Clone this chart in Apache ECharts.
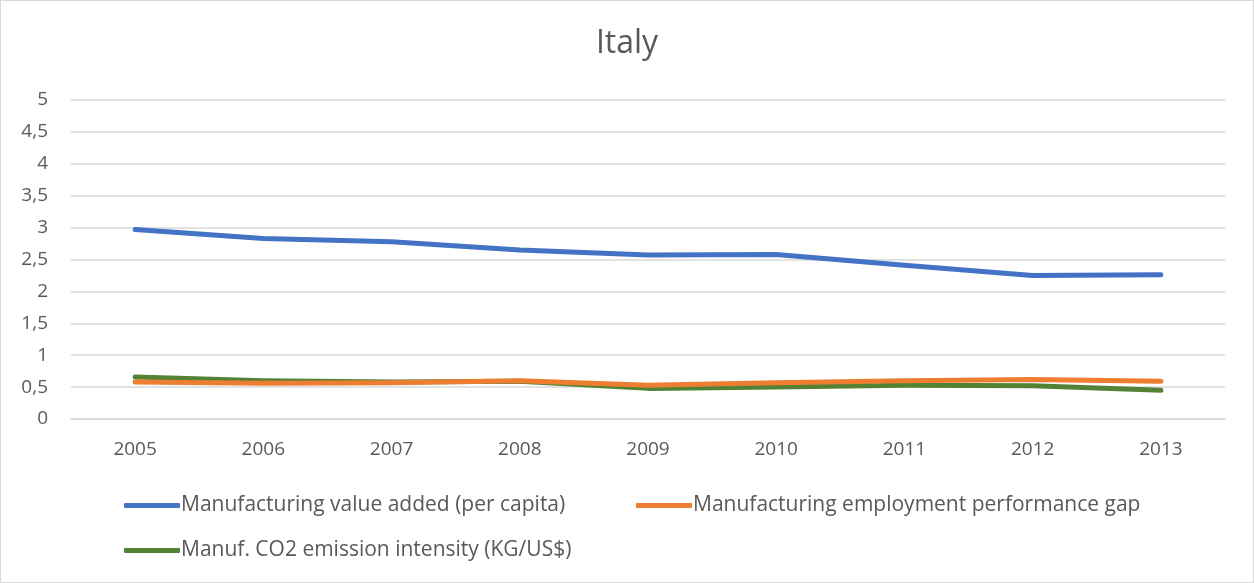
<!DOCTYPE html>
<html><head><meta charset="utf-8">
<script src="https://cdn.jsdelivr.net/npm/echarts@6/dist/echarts.min.js"></script>
<style>html,body{margin:0;padding:0;background:#fff}#c{width:1254px;height:583px;box-sizing:border-box;border:1px solid #d9d9d9}</style>
</head><body><div id="c"></div>
<script>
const categories = ['2005','2006','2007','2008','2009','2010','2011','2012','2013'];
const valueAdded = [2.97, 2.83, 2.78, 2.65, 2.57, 2.58, 2.41, 2.25, 2.26];
const employmentGap = [0.58, 0.56, 0.57, 0.60, 0.53, 0.57, 0.60, 0.62, 0.59];
const co2Intensity = [0.66, 0.60, 0.58, 0.59, 0.48, 0.50, 0.53, 0.52, 0.45];
const seriesNames = ['Manufacturing value added (per capita)', 'Manufacturing employment performance gap', 'Manuf. CO2 emission intensity (KG/US$)'];
const colors = ['#4472C4', '#ED7D31', '#548235'];
const FONT = 'Open Sans, Noto Sans, sans-serif';

const chart = echarts.init(document.getElementById('c'));
const legendBase = {
  orient: 'horizontal', icon: 'roundRect', itemWidth: 56, itemHeight: 5, itemGap: 40,
  textStyle: { fontFamily: FONT, fontSize: 21, color: '#595959', padding: [0,0,0,-4] },
  selectedMode: false
};
chart.setOption({
  animation: false,
  title: { text: 'Italy', left: 'center', top: 22, textStyle: { fontFamily: FONT, fontSize: 32, fontWeight: 'normal', color: '#595959' } },
  legend: [
    Object.assign({}, legendBase, { data: [seriesNames[0]], left: 118, top: 489 }),
    Object.assign({}, legendBase, { data: [seriesNames[1]], left: 630, top: 489 }),
    Object.assign({}, legendBase, { data: [seriesNames[2]], left: 118, top: 534 })
  ],
  grid: { left: 70, right: 28, top: 99, bottom: 163, containLabel: false },
  xAxis: {
    type: 'category', data: categories, boundaryGap: true,
    axisLine: { lineStyle: { color: '#d9d9d9', width: 1.5 } },
    axisTick: { show: false },
    axisLabel: { color: '#595959', fontSize: 19, margin: 21, fontFamily: FONT }
  },
  yAxis: {
    type: 'value', min: 0, max: 5, interval: 0.5,
    axisLine: { show: false }, axisTick: { show: false },
    splitLine: { lineStyle: { color: '#d9d9d9', width: 1.5 } },
    axisLabel: { color: '#595959', fontSize: 19, margin: 23, fontFamily: FONT,
      formatter: v => String(v).replace('.', ',') }
  },
  series: [
    { name: seriesNames[0], data: valueAdded },
    { name: seriesNames[1], data: employmentGap },
    { name: seriesNames[2], data: co2Intensity }
  ].map((s, i) => Object.assign(s, {
    type: 'line', showSymbol: false, symbol: 'none', color: colors[i],
    lineStyle: { width: 5, color: colors[i], cap: 'round', join: 'round' }, z: 10 - i
  }))
});
</script></body></html>
